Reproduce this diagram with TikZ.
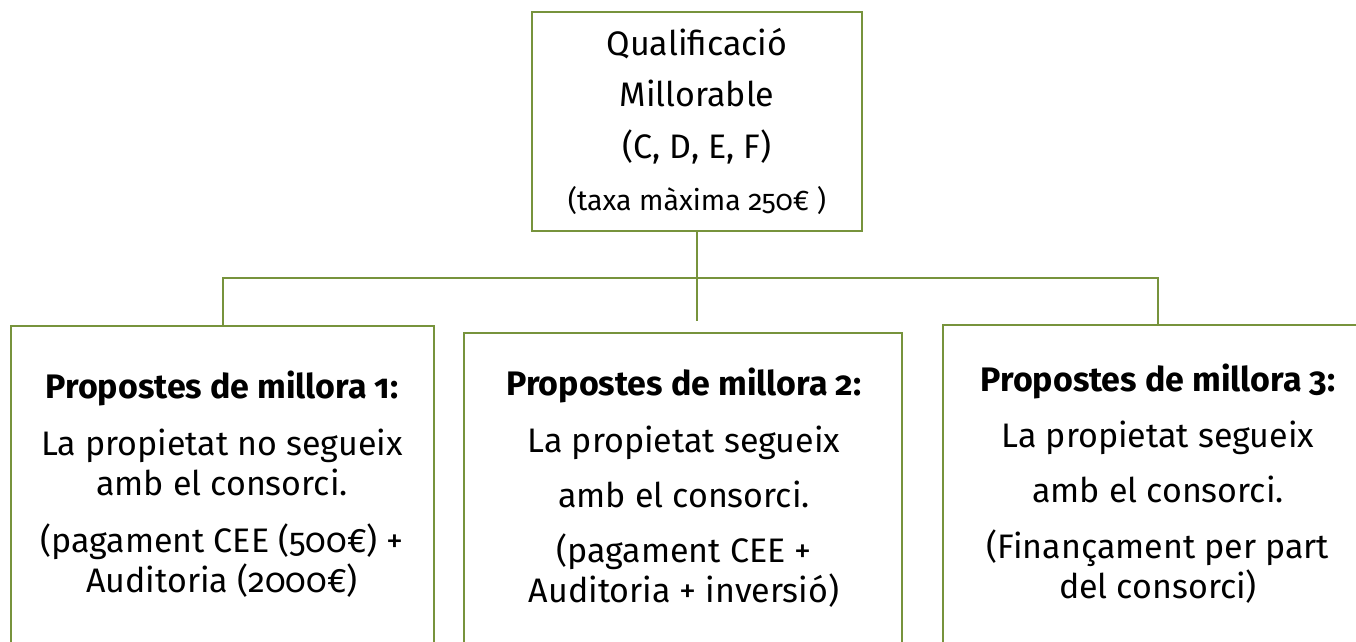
\documentclass[tikz,border=0pt]{standalone}
\usepackage{fontspec}
\setmainfont{Fira Sans}[Numbers=OldStyle]
\definecolor{olive}{HTML}{77933C}
\tikzset{
  box/.style={draw=olive, line width=2pt, inner sep=0pt},
  conn/.style={draw=olive, line width=2pt},
  txt/.style={anchor=base, inner sep=0pt, font=\fontsize{34}{40}\selectfont},
  btxt/.style={anchor=base, inner sep=0pt, font=\fontsize{34}{40}\selectfont\bfseries},
  stxt/.style={anchor=base, inner sep=0pt, font=\fontsize{28.5}{34}\selectfont},
}
\begin{document}
\begin{tikzpicture}[x=1pt,y=-1pt]
\useasboundingbox (0,0) rectangle (1356,641);
\clip (0,0) rectangle (1356,641);
\fill[white] (0,0) rectangle (1356,641);
% boxes
\node[box, minimum width=330pt, minimum height=219pt] (top) at (697,121.5) {};
\node[box, minimum width=423pt, minimum height=334pt] (lb) at (222.5,493) {};
\node[box, minimum width=438pt, minimum height=327pt] (mb) at (683,496.5) {};
\node[box, minimum width=430pt, minimum height=335pt] (rb) at (1158,492.5) {};
\coordinate (hub) at (697,278);
\coordinate (mend) at (697,321);
% connectors
\draw[conn] (top.south) -- (mend);
\draw[conn] (lb.north) |- (hub) -| (rb.north);
% top text
\node[txt] (t1) at (697,55) {Qualificació};
\node[txt] (t2) at (697,106) {Millorable};
\node[txt] (t3) at (697,158) {(C, D, E, F)};
\node[stxt] (t4) at (697,210) {(taxa màxima 250€ )};
% left text
\node[btxt] (l1) at (222,398) {Propostes de millora 1:};
\node[txt] (l2) at (222,455) {La propietat no segueix};
\node[txt] (l3) at (222,495) {amb el consorci.};
\node[txt] (l4) at (222,552) {(pagament CEE (500€) +};
\node[txt] (l5) at (222,592) {Auditoria (2000€)};
% middle text
\node[btxt] (m1) at (684,395) {Propostes de millora 2:};
\node[txt] (m2) at (684,452) {La propietat segueix};
\node[txt] (m3) at (684,507) {amb el consorci.};
\node[txt] (m4) at (684,562) {(pagament CEE +};
\node[txt] (m5) at (684,602) {Auditoria + inversió)};
% right text
\node[btxt] (r1) at (1158,391) {Propostes de millora 3:};
\node[txt] (r2) at (1158,447) {La propietat segueix};
\node[txt] (r3) at (1158,502) {amb el consorci.};
\node[txt] (r4) at (1158,558) {(Finançament per part};
\node[txt] (r5) at (1158,598) {del consorci)};
\end{tikzpicture}
\end{document}
